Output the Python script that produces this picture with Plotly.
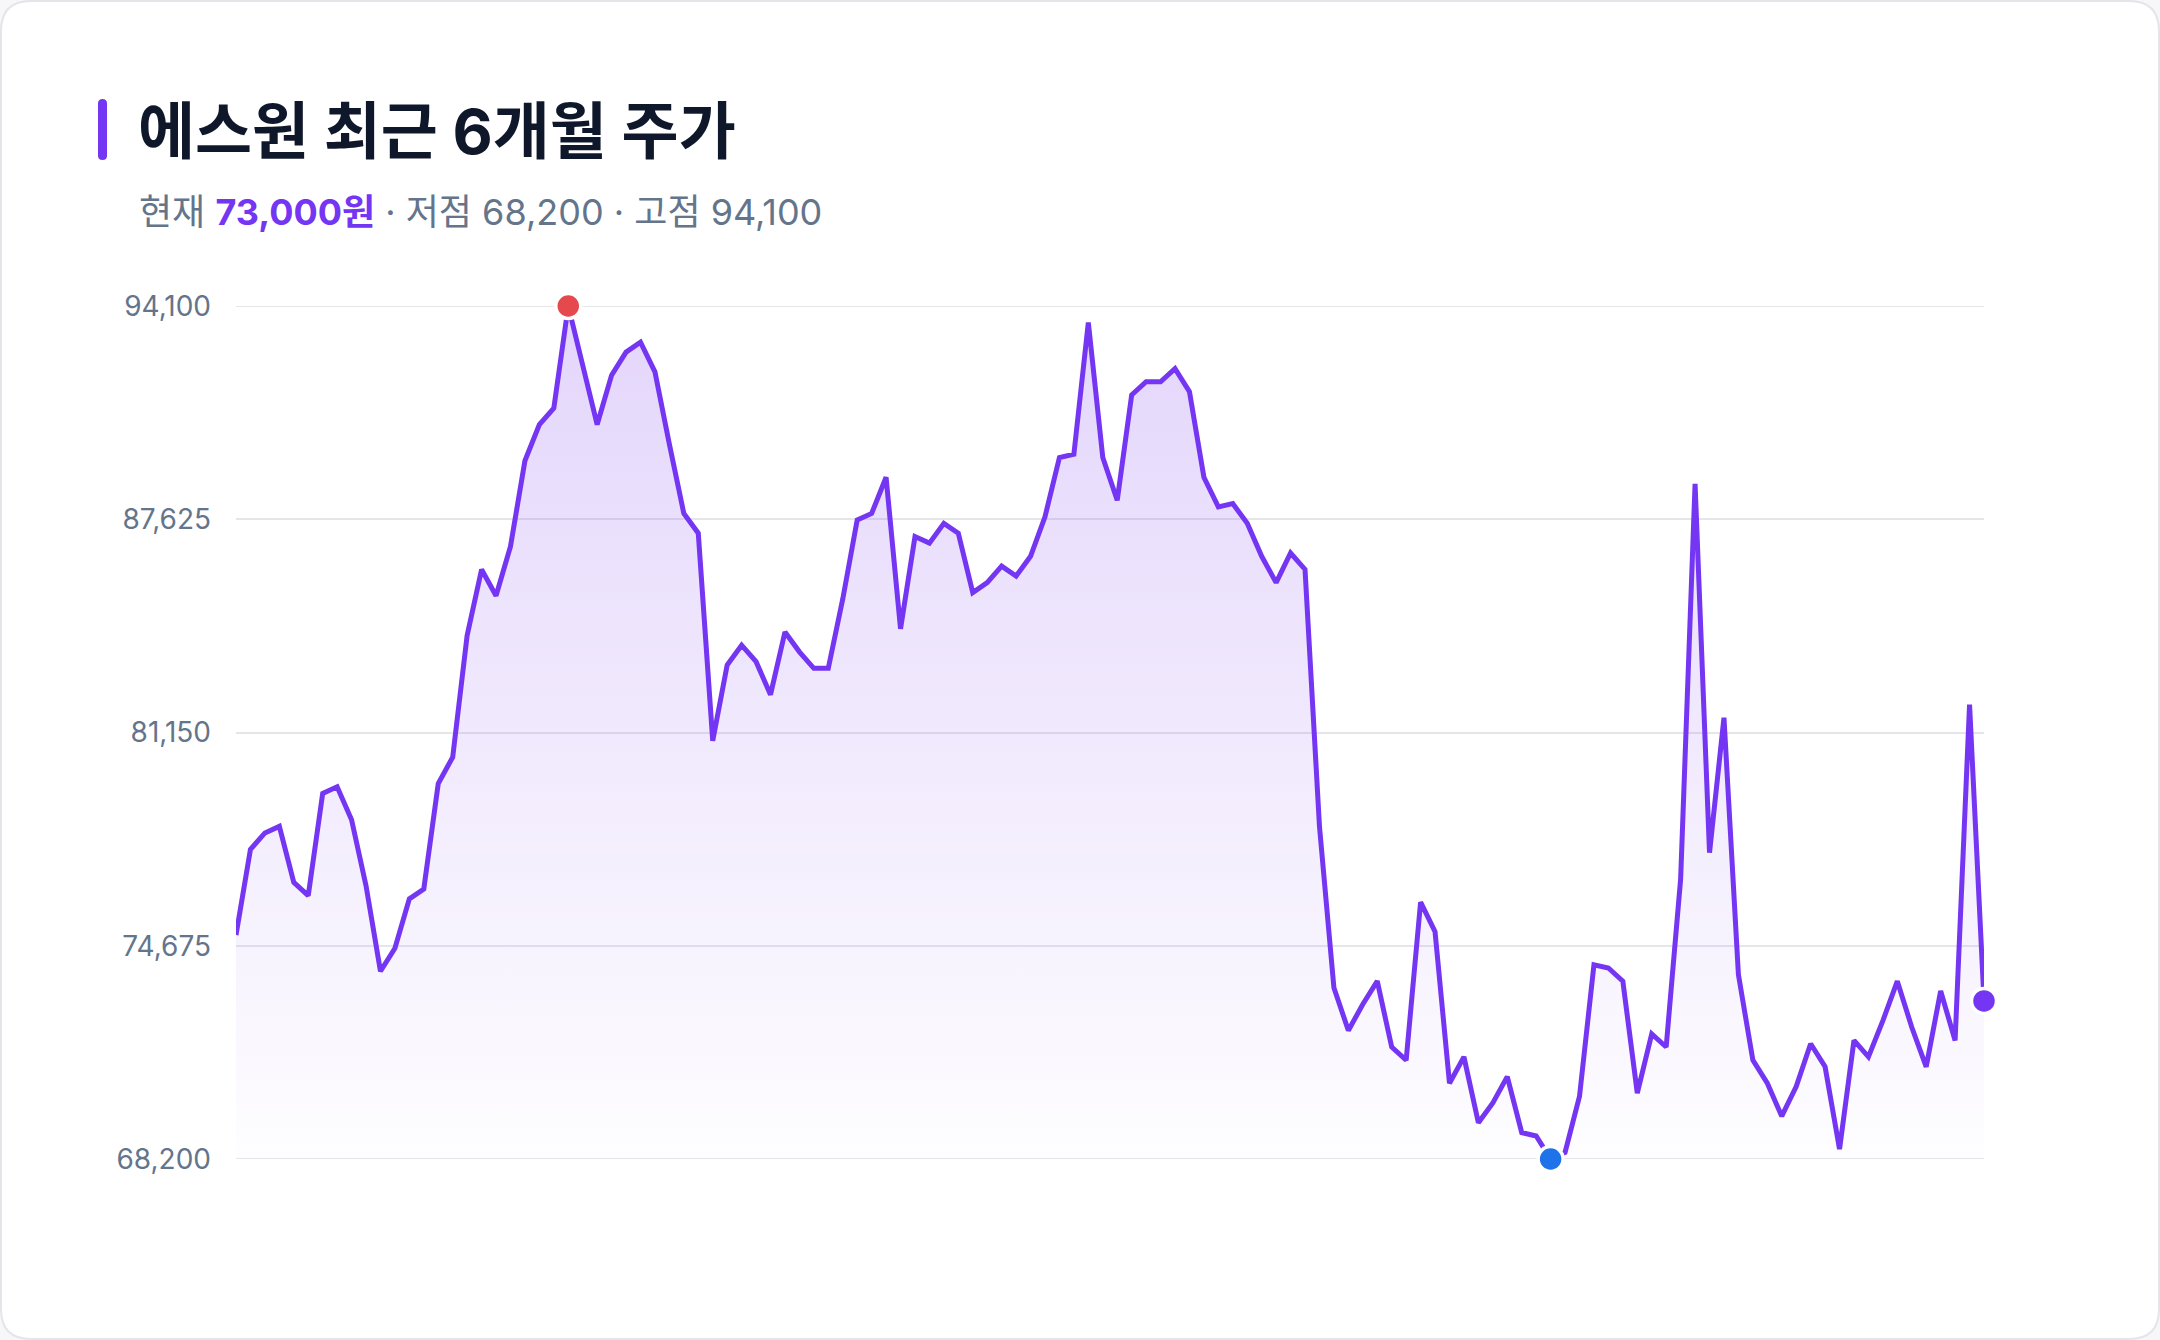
import plotly.graph_objects as go

# ---- data ----
days = list(range(122))
prices = [
    75000, 77600, 78100, 78300, 76600, 76200, 79300, 79500, 78500, 76500,
    73900, 74600, 76100, 76400, 79600, 80400, 84100, 86100, 85300, 86800,
    89400, 90500, 91000, 94100, 92300, 90500, 92000, 92700, 93000, 92100,
    89900, 87800, 87200, 80900, 83200, 83800, 83300, 82300, 84200, 83600,
    83100, 83100, 85200, 87600, 87800, 88900, 84300, 87100, 86900, 87500,
    87200, 85400, 85700, 86200, 85900, 86500, 87700, 89500, 89600, 93600,
    89500, 88200, 91400, 91800, 91800, 92200, 91500, 88900, 88000, 88100,
    87500, 86500, 85700, 86600, 86100, 78300, 73400, 72100, 72900, 73600,
    71600, 71200, 76000, 75100, 70500, 71300, 69300, 69900, 70700, 69000,
    68900, 68200, 68400, 70100, 74100, 74000, 73600, 70200, 72000, 71600,
    76700, 88700, 77500, 81600, 73800, 71200, 70500, 69500, 70400, 71700,
    71000, 68500, 71800, 71300, 72400, 73600, 72200, 71000, 73300, 71800,
    82000, 73000,
]
ytick_vals = [68200, 74675, 81150, 87625, 94100]
ytick_text = ["68,200", "74,675", "81,150", "87,625", "94,100"]
title_text = "에스원 최근 6개월 주가"
current_price = "73,000원"
low_label = "68,200"
high_label = "94,100"

PURPLE = "#7436f2"
RED = "#e5484d"
BLUE = "#1e73ea"
GRAY = "#64748b"
GRID = "#e6e6ea"
FONT = "Inter, Noto Sans CJK KR, sans-serif"

W, H = 2160, 1340
L, R, T, B = 236, 176, 306, 181
PW, PH = W - L - R, H - T - B


def X(px):
    return (px - L) / PW


def Y(py):
    return (H - B - py) / PH


def rounded_rect(x0, y0, x1, y1, r):
    pts = [
        f"M {X(x0 + r)} {Y(y0)}",
        f"L {X(x1 - r)} {Y(y0)}",
        f"Q {X(x1)} {Y(y0)} {X(x1)} {Y(y0 + r)}",
        f"L {X(x1)} {Y(y1 - r)}",
        f"Q {X(x1)} {Y(y1)} {X(x1 - r)} {Y(y1)}",
        f"L {X(x0 + r)} {Y(y1)}",
        f"Q {X(x0)} {Y(y1)} {X(x0)} {Y(y1 - r)}",
        f"L {X(x0)} {Y(y0 + r)}",
        f"Q {X(x0)} {Y(y0)} {X(x0 + r)} {Y(y0)}",
        "Z",
    ]
    return " ".join(pts)


imax = prices.index(max(prices))
imin = prices.index(min(prices))
ilast = len(prices) - 1

fig = go.Figure()
fig.add_trace(go.Scatter(
    x=days, y=prices, mode="lines",
    line=dict(color=PURPLE, width=5),
    fill="tozeroy",
    fillgradient=dict(
        type="vertical", start=68200, stop=94100,
        colorscale=[[0, "rgba(124,58,237,0.01)"], [1, "rgba(124,58,237,0.21)"]],
    ),
    hoverinfo="skip", showlegend=False,
))
fig.add_trace(go.Scatter(
    x=[days[imax], days[imin], days[ilast]],
    y=[prices[imax], prices[imin], prices[ilast]],
    mode="markers",
    marker=dict(size=25, color=[RED, BLUE, PURPLE], line=dict(color="white", width=3.5)),
    cliponaxis=False, showlegend=False, hoverinfo="skip",
))

edge_grid = [
    dict(type="line", xref="paper", yref="y", x0=0, x1=1, y0=v, y1=v, layer="below",
         line=dict(color=GRID, width=2))
    for v in (ytick_vals[0], ytick_vals[-1])
]

fig.update_layout(
    width=W, height=H,
    margin=dict(l=L, r=R, t=T, b=B, pad=0),
    paper_bgcolor="#f7f7f9",
    plot_bgcolor="rgba(0,0,0,0)",
    font=dict(family=FONT, color=GRAY),
    xaxis=dict(range=[0, len(prices) - 1], visible=False, showgrid=False, zeroline=False),
    yaxis=dict(
        range=[68200, 94100], tickvals=ytick_vals, ticktext=ytick_text,
        showgrid=True, gridcolor=GRID, gridwidth=2, zeroline=False, showline=False,
        ticks="", ticklabelstandoff=24,
        tickfont=dict(family=FONT, size=28, color=GRAY),
    ),
    shapes=[
        dict(type="path", xref="paper", yref="paper", layer="below",
             path=rounded_rect(1, 1, W - 1, H - 1, 30),
             fillcolor="white", line=dict(color="#e4e4e9", width=2)),
    ] + edge_grid + [
        dict(type="path", xref="paper", yref="paper", layer="above",
             path=rounded_rect(98, 99, 107, 160, 4.5),
             fillcolor=PURPLE, line=dict(width=0)),
    ],
    annotations=[
        dict(xref="paper", yref="paper", x=X(136), y=Y(131), xanchor="left", yanchor="middle",
             text=f"<b>{title_text}</b>", showarrow=False,
             font=dict(family=FONT, size=62, color="#0f172a", weight=900)),
        dict(xref="paper", yref="paper", x=X(137), y=Y(212), xanchor="left", yanchor="middle",
             text=(f"현재 <b><span style='color:{PURPLE}'>{current_price}</span></b>"
                   f" · 저점 {low_label} · 고점 {high_label}"),
             showarrow=False,
             font=dict(family=FONT, size=36, color=GRAY)),
    ],
)

fig.write_html("out.html")
